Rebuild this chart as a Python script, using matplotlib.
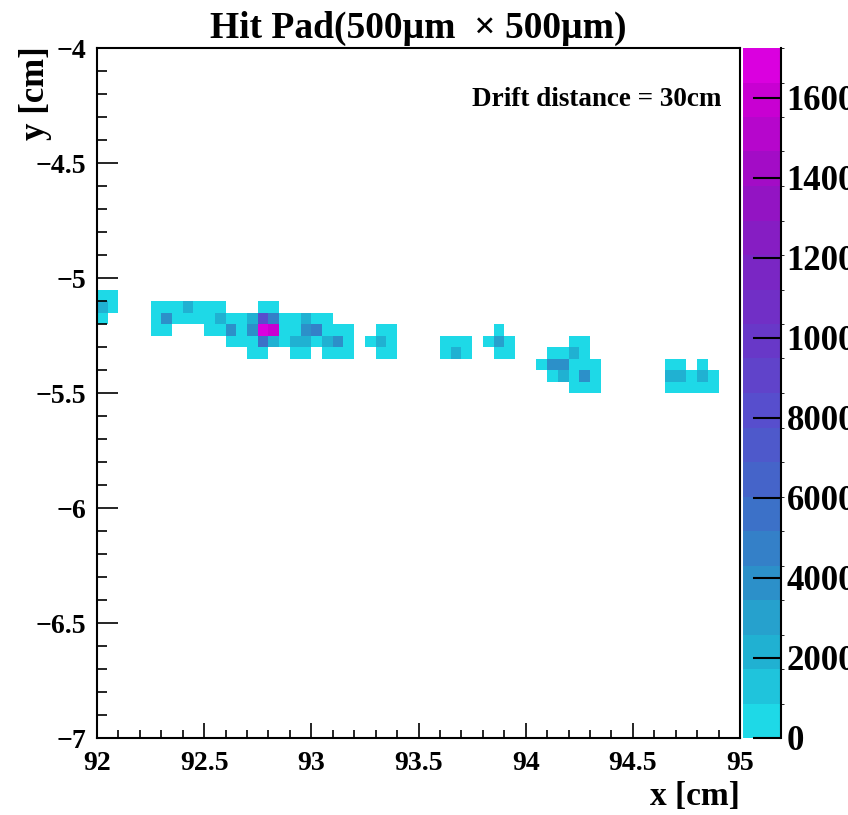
import numpy as np
import matplotlib
matplotlib.use("Agg")
import matplotlib.pyplot as plt
from matplotlib.colors import LinearSegmentedColormap, ListedColormap, BoundaryNorm

plt.rcParams['font.family'] = ['Liberation Serif', 'DejaVu Serif']
plt.rcParams['font.weight'] = 'bold'

# pad grid: 500um x 500um pads, x from 92 cm, y from -4 cm downwards
pad_size = 0.05
x_min, x_max = 92.0, 95.0
y_min, y_max = -7.0, -4.0

# hit pads: column index (from x=92), row index (from y=-4 going down), charge
pad_col = [0, 1,
           0, 1, 5, 6, 7, 8, 9, 10, 11, 15, 16,
           0, 5, 6, 7, 8, 9, 10, 11, 12, 13, 14, 15, 16, 17, 18, 19, 20, 21,
           5, 6, 10, 11, 12, 13, 14, 15, 16, 17, 18, 19, 20, 21, 22, 23, 26, 27, 37,
           12, 13, 14, 15, 16, 17, 18, 19, 20, 21, 22, 23, 25, 26, 27, 32, 33, 34, 36, 37, 38, 44, 45,
           14, 15, 18, 19, 21, 22, 23, 26, 27, 32, 33, 34, 37, 38, 42, 43, 44, 45,
           41, 42, 43, 44, 45, 46, 53, 54, 56,
           42, 43, 44, 45, 46, 53, 54, 55, 56, 57,
           44, 45, 46, 53, 54, 55, 56, 57]
pad_row = [21, 21,
           22, 22, 22, 22, 22, 22, 22, 22, 22, 22, 22,
           23, 23, 23, 23, 23, 23, 23, 23, 23, 23, 23, 23, 23, 23, 23, 23, 23, 23,
           24, 24, 24, 24, 24, 24, 24, 24, 24, 24, 24, 24, 24, 24, 24, 24, 24, 24, 24,
           25, 25, 25, 25, 25, 25, 25, 25, 25, 25, 25, 25, 25, 25, 25, 25, 25, 25, 25, 25, 25, 25, 25,
           26, 26, 26, 26, 26, 26, 26, 26, 26, 26, 26, 26, 26, 26, 26, 26, 26, 26,
           27, 27, 27, 27, 27, 27, 27, 27, 27,
           28, 28, 28, 28, 28, 28, 28, 28, 28, 28,
           29, 29, 29, 29, 29, 29, 29, 29]
pad_charge = [300, 300,
              2500, 300, 300, 300, 300, 1800, 300, 300, 300, 300, 300,
              300, 300, 4000, 300, 300, 300, 300, 1800, 300, 300, 2200, 8500, 5000, 300, 300, 2000, 300, 300,
              300, 300, 300, 300, 3500, 300, 4000, 16800, 16000, 300, 300, 3500, 4500, 300, 300, 300, 300, 300, 300,
              300, 300, 300, 6000, 2500, 300, 2000, 2000, 300, 2000, 4000, 300, 300, 2200, 300, 300, 300, 300, 300, 3000, 300, 300, 300,
              300, 300, 300, 300, 300, 300, 300, 300, 300, 300, 2000, 300, 300, 300, 300, 300, 2000, 300,
              300, 3500, 3500, 300, 300, 300, 300, 300, 300,
              300, 2000, 300, 4000, 300, 2000, 2000, 300, 2000, 300,
              300, 300, 300, 300, 300, 300, 300, 300]

z_max = 17250
cbar_ticks = [0, 2000, 4000, 6000, 8000, 10000, 12000, 14000, 16000]

x = x_min + pad_size * (np.array(pad_col) + 0.5)
y = y_max - pad_size * (np.array(pad_row) + 0.5)

# cyan -> blue -> purple -> magenta, 20 contour levels like ROOT
nodes = [(0.0, (30, 225, 235)), (0.116, (32, 178, 210)), (0.232, (45, 140, 200)),
         (0.348, (65, 105, 200)), (0.464, (85, 80, 205)), (0.58, (105, 55, 200)),
         (0.696, (125, 35, 195)), (0.812, (155, 15, 195)), (0.928, (200, 0, 210)),
         (1.0, (225, 0, 228))]
base = LinearSegmentedColormap.from_list('cool_root', [(p, tuple(c / 255 for c in rgb)) for p, rgb in nodes])
cmap = ListedColormap(base(np.linspace(0.02, 0.98, 20)))
levels = np.linspace(0, z_max, 21)
norm = BoundaryNorm(levels, cmap.N)

fig = plt.figure(figsize=(8.48, 8.15), dpi=100)
ax = fig.add_axes([97/848, 77/815, 643/848, 690/815])

xbins = np.arange(x_min, x_max + 1e-6, pad_size)
ybins = np.arange(y_min, y_max + 1e-6, pad_size)
h = ax.hist2d(x, y, bins=[xbins, ybins], weights=pad_charge, cmin=1, cmap=cmap, norm=norm)

ax.set_xlim(x_min, x_max)
ax.set_ylim(y_min, y_max)
ax.set_xticks(np.arange(92, 95.01, 0.5))
ax.set_xticklabels(['92', '92.5', '93', '93.5', '94', '94.5', '95'])
ax.set_yticks(np.arange(-7, -3.99, 0.5))
ax.set_yticklabels(['\u22127', '\u22126.5', '\u22126', '\u22125.5', '\u22125', '\u22124.5', '\u22124'])
ax.set_xticks(np.arange(92, 95.01, 0.1), minor=True)
ax.set_yticks(np.arange(-7, -3.99, 0.1), minor=True)
ax.tick_params(axis='both', which='both', direction='in', labelsize=20, width=1.2)
ax.tick_params(axis='x', which='major', length=11, pad=9)
ax.tick_params(axis='x', which='minor', length=5.5)
ax.tick_params(axis='y', which='major', length=15, pad=8)
ax.tick_params(axis='y', which='minor', length=7.5)
for s in ax.spines.values():
    s.set_linewidth(1.5)

ax.set_title('Hit Pad(500\u00b5m  \u00d7 500\u00b5m)', fontsize=27, fontweight='bold', pad=7)
ax.set_xlabel('x [cm]', fontsize=24, fontweight='bold', loc='right', labelpad=4)
fig.text(35/848, 1 - 46/815, 'y [cm]', rotation=90, ha='center', va='top',
         fontsize=25, fontweight='bold')
ax.text(0.972, 0.925, 'Drift distance = 30cm', transform=ax.transAxes,
        ha='right', va='center', fontsize=19.5, fontweight='bold')

# palette axis
cax = fig.add_axes([743/848, 77/815, 38/848, 690/815])
cbar = fig.colorbar(h[3], cax=cax, ticks=cbar_ticks)
cbar.outline.set_visible(False)
cax.plot([1, 1], [0, 1], transform=cax.transAxes, color='black', lw=1.5, clip_on=False)
cax.tick_params(direction='in', length=20, width=1.5, labelsize=25, pad=4)
cax.set_yticklabels([str(t) for t in cbar_ticks])

fig.savefig('out.png', dpi=100)
